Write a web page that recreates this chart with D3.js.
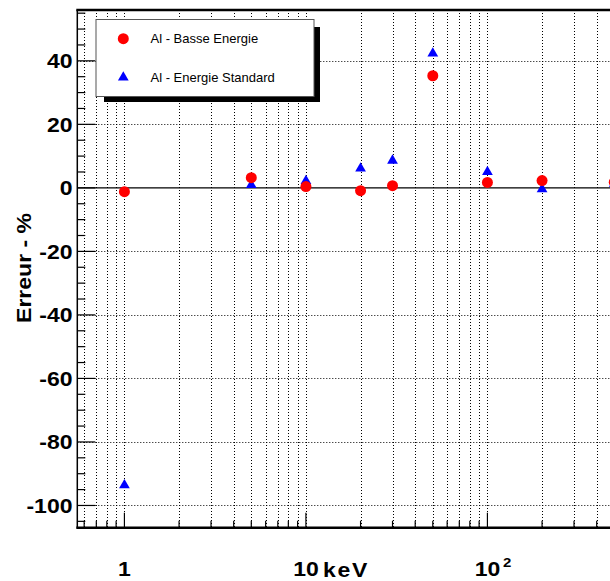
<!DOCTYPE html>
<html>
<head>
<meta charset="utf-8">
<script src="https://cdn.jsdelivr.net/npm/d3@7"></script>
<style>
html,body{margin:0;padding:0;background:#fff;overflow:hidden;}
svg{display:block;}
text{font-family:"Liberation Sans",Arial,Helvetica,sans-serif;}
</style>
</head>
<body>
<svg id="chart" width="610" height="581"></svg>
<script>
// ---- data ----
const energies = [1, 5, 10, 20, 30, 50, 100, 200, 500];           // keV
const basseEnergie = [-1.2, 3.2, 0.4, -0.9, 0.7, 35.3, 1.7, 2.3, 1.8];
const energieStandard = [-93.6, 0.9, 2.2, 6.1, 8.6, 42.3, 5.0, -0.4, 1.3];
const seriesNames = ["Al - Basse Energie", "Al - Energie Standard"];
const yTicks = [-100, -80, -60, -40, -20, 0, 20, 40];
const xTickLabels = [{v: 1, t: "1"}, {v: 10, t: "10"}, {v: 100, t: "10", sup: "2"}];
const xDomain = [0.55, 600];
const yDomain = [-107, 56];

const svg = d3.select("#chart");
const pL = 77.3, pT = 10, pB = 527.7;
const pxPerDecade = 181.5;
const pR = pL + pxPerDecade * Math.log10(xDomain[1] / xDomain[0]);

const x = d3.scaleLog().domain(xDomain).range([pL, pR]);
const y = d3.scaleLinear().domain(yDomain).range([pB, pT]);

// grid lines (dotted)
const xGridVals = [];
for (let e = -1; e <= 2; e++) for (let m = 1; m <= 9; m++) {
  const v = m * Math.pow(10, e);
  if (v > xDomain[0] && v < xDomain[1]) xGridVals.push(v);
}
const isMajor = d => Math.abs(Math.log10(d) - Math.round(Math.log10(d))) < 1e-9;
const grid = svg.append("g");
grid.selectAll("line.gx").data(xGridVals).join("line")
  .attr("x1", d => Math.round(x(d)) + 0.5).attr("x2", d => Math.round(x(d)) + 0.5)
  .attr("y1", pT).attr("y2", pB)
  .attr("stroke", "#000").attr("stroke-width", 1).attr("stroke-dasharray", "1,2");
grid.selectAll("line.gy").data(yTicks.filter(d => d !== 0)).join("line")
  .attr("x1", pL).attr("x2", pR)
  .attr("y1", d => Math.round(y(d)) + 0.5).attr("y2", d => Math.round(y(d)) + 0.5)
  .attr("stroke", "#000").attr("stroke-width", 1).attr("stroke-dasharray", "1,2");

// zero line
svg.append("line").attr("x1", pL).attr("x2", pR)
  .attr("y1", y(0)).attr("y2", y(0)).attr("stroke", "#000").attr("stroke-width", 1.3);

// frame: top & left & bottom
svg.append("line").attr("x1", pL - 1).attr("x2", pR).attr("y1", pT).attr("y2", pT)
  .attr("stroke", "#000").attr("stroke-width", 2.5);
svg.append("line").attr("x1", pL).attr("x2", pL).attr("y1", pT).attr("y2", pB)
  .attr("stroke", "#000").attr("stroke-width", 1.5);
svg.append("line").attr("x1", pL - 1).attr("x2", pR).attr("y1", pB).attr("y2", pB)
  .attr("stroke", "#000").attr("stroke-width", 2.5);

// y ticks (major 20, minor 5)
const yMinor = d3.range(-105, 56, 5);
svg.append("g").selectAll("line").data(yMinor).join("line")
  .attr("x1", pL).attr("x2", d => pL + (d % 20 === 0 ? 18 : 8))
  .attr("y1", d => y(d)).attr("y2", d => y(d))
  .attr("stroke", "#000").attr("stroke-width", 1.2);

// x ticks
svg.append("g").selectAll("line").data(xGridVals).join("line")
  .attr("x1", d => x(d)).attr("x2", d => x(d))
  .attr("y1", pB).attr("y2", d => pB - (isMajor(d) ? 15 : 7))
  .attr("stroke", "#000").attr("stroke-width", 1.2);

// y tick labels
svg.append("g").selectAll("text").data(yTicks).join("text")
  .attr("transform", d => `translate(72.5,${y(d)}) scale(1.15,1)`)
  .attr("dy", "0.36em").attr("text-anchor", "end")
  .attr("font-size", 20).attr("font-weight", "bold").text(d => d);

// x tick labels
const xlBase = 576;
svg.append("g").selectAll("text").data(xTickLabels).join("text")
  .attr("transform", d => `translate(${x(d.v)},${xlBase}) scale(1.15,1)`)
  .attr("text-anchor", "middle").attr("font-size", 20).attr("font-weight", "bold")
  .text(d => d.t);
svg.append("g").selectAll("text").data(xTickLabels.filter(d => d.sup)).join("text")
  .attr("transform", d => `translate(${x(d.v) + 15.5},${xlBase - 9.5}) scale(1.15,1)`)
  .attr("font-size", 13).attr("font-weight", "bold").text(d => d.sup);

// axis titles
svg.append("text").attr("transform", "translate(323,577) scale(1.15,1)")
  .attr("font-size", 20).attr("font-weight", "bold").attr("letter-spacing", 1.5).text("keV");
svg.append("text").attr("transform", "translate(30.5,268) rotate(-90) scale(1.15,1)")
  .attr("text-anchor", "middle").attr("font-size", 20).attr("font-weight", "bold").text("Erreur - %");

// data markers
const pts1 = energies.map((e, i) => ({e, v: basseEnergie[i]}));
const pts2 = energies.map((e, i) => ({e, v: energieStandard[i]}));
const tri = d3.symbol().type(d3.symbolTriangle).size(50);
svg.append("g").selectAll("path").data(pts2).join("path")
  .attr("d", tri).attr("transform", d => `translate(${x(d.e)},${y(d.v)})`)
  .attr("fill", "#0000ff");
svg.append("g").selectAll("circle").data(pts1).join("circle")
  .attr("cx", d => x(d.e)).attr("cy", d => y(d.v)).attr("r", 5.5)
  .attr("fill", "#ff0000");

// legend
const lg = svg.append("g");
lg.append("rect").attr("x", 104).attr("y", 27).attr("width", 216).attr("height", 75).attr("fill", "#000");
lg.append("rect").attr("x", 96).attr("y", 19.5).attr("width", 218).attr("height", 77)
  .attr("fill", "#fff").attr("stroke", "#555").attr("stroke-width", 1);
lg.append("circle").attr("cx", 123.3).attr("cy", 38.7).attr("r", 5.5).attr("fill", "#ff0000");
lg.append("path").attr("d", tri).attr("transform", "translate(123.3,77.5)").attr("fill", "#0000ff");
lg.selectAll("text").data(seriesNames).join("text")
  .attr("x", 150.5).attr("y", (d, i) => i === 0 ? 43 : 82)
  .attr("font-size", 13).text(d => d);
</script>
</body>
</html>
